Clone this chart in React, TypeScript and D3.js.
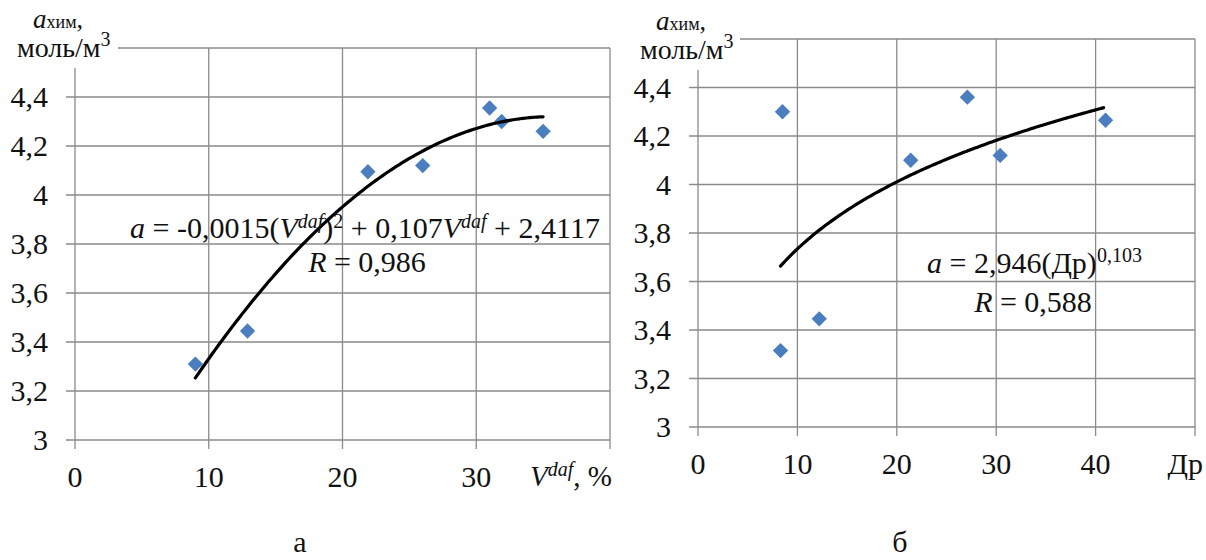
import * as d3 from 'd3';

// panel "а": a_chem vs V^daf
const vdaf = [9, 12.9, 21.9, 26, 31, 31.9, 35];
const aChemA = [3.31, 3.445, 4.095, 4.12, 4.355, 4.3, 4.26];
// panel "б": a_chem vs Др
const dr = [8.5, 8.3, 12.2, 21.4, 27.1, 30.4, 41];
const aChemB = [4.3, 3.315, 3.446, 4.1, 4.36, 4.12, 4.265];

// trend line coefficients as printed on the chart
const quadCoef = [-0.0015, 0.107, 2.4117];
const powCoef = [2.946, 0.103];

const xTicksA = [0, 10, 20, 30, 40];
const xTicksB = [0, 10, 20, 30, 40, 50];
const xTickLabelsA = ['0', '10', '20', '30'];
const xTickLabelsB = ['0', '10', '20', '30', '40'];
const yTicks = [3, 3.2, 3.4, 3.6, 3.8, 4, 4.2, 4.4];
const yTickLabels = ['3', '3,2', '3,4', '3,6', '3,8', '4', '4,2', '4,4'];

const FONT = 'Liberation Serif';
const GRID = '#8a8a8a';
const BLUE = '#4a7ebf';

const diamond = d3.symbol().type(d3.symbolDiamond2).size(150)();

function Panel({ x, y, axisTop, borderLeft, xTicks, xLabels, xs, ys, trend, trendFrom, trendTo }) {
  const [x0, x1] = x.range();
  const [yb, yt] = y.range();
  const line = d3.line().curve(d3.curveBasis)
    .x(d => x(d[0]))
    .y(d => y(d[1]));
  const tr = d3.range(trendFrom, trendTo + 0.001, 0.25).map(v => [v, trend(v)]);
  return (
    <g>
      {yTicks.map(t => (
        <line key={'h' + t} x1={x0 - 9} x2={x1} y1={y(t)} y2={y(t)} stroke={GRID} strokeWidth={1.3} />
      ))}
      <line x1={borderLeft} x2={x1} y1={yt} y2={yt} stroke={GRID} strokeWidth={1.3} />
      {xTicks.map(t => (
        <line key={'v' + t} x1={x(t)} x2={x(t)} y1={t === 0 ? axisTop : yt} y2={yb + 9} stroke={GRID} strokeWidth={1.3} />
      ))}
      {yTicks.map((t, i) => (
        <text key={'yl' + t} x={x0 - 27} y={y(t) + 10} textAnchor="end" fontSize={30} fontFamily={FONT} fill="#111">
          {yTickLabels[i]}
        </text>
      ))}
      {xLabels.map((l, i) => (
        <text key={'xl' + l} x={x(xTicks[i])} y={yb + 47} textAnchor="middle" fontSize={30} fontFamily={FONT} fill="#111">
          {l}
        </text>
      ))}
      {xs.map((v, i) => (
        <path key={'p' + i} d={diamond} transform={`translate(${x(v)},${y(ys[i])})`} fill={BLUE} />
      ))}
      <path d={line(tr)} fill="none" stroke="#000" strokeWidth={3.2} strokeLinecap="round" />
    </g>
  );
}

function YTitle({ x, y }) {
  return (
    <g fill="#111">
      <text x={x + 16} y={y} fontFamily={FONT}>
        <tspan fontStyle="italic" fontSize={27}>a</tspan>
        <tspan fontSize={18}>хим</tspan>
        <tspan fontSize={26}>,</tspan>
      </text>
      <text x={x} y={y + 29} fontSize={28} fontFamily={FONT}>
        моль/м<tspan fontSize={20} dy={-11}>3</tspan>
      </text>
    </g>
  );
}

export default function App() {
  const xA = d3.scaleLinear().domain([0, 40]).range([75, 610]);
  const yA = d3.scaleLinear().domain([3, 4.6]).range([440, 48]);
  const xB = d3.scaleLinear().domain([0, 50]).range([698, 1195]);
  const yB = d3.scaleLinear().domain([3, 4.6]).range([427, 39]);

  const quad = v => quadCoef[0] * v * v + quadCoef[1] * v + quadCoef[2];
  const pow = v => powCoef[0] * Math.pow(v, powCoef[1]);

  return (
    <svg width={1206} height={560} style={{ position: 'absolute', left: 0, top: 0, background: '#fff' }}>
      <Panel x={xA} y={yA} axisTop={68} borderLeft={118} xTicks={xTicksA} xLabels={xTickLabelsA} xs={vdaf} ys={aChemA}
        trend={quad} trendFrom={9} trendTo={35} />
      <Panel x={xB} y={yB} axisTop={70} borderLeft={740} xTicks={xTicksB} xLabels={xTickLabelsB} xs={dr} ys={aChemB}
        trend={pow} trendFrom={8.3} trendTo={41} />

      <YTitle x={17} y={28} />
      <YTitle x={640} y={30} />

      {/* x axis titles */}
      <text x={612} y={486} textAnchor="end" fontFamily={FONT} fontSize={29} fill="#111">
        <tspan fontStyle="italic">V</tspan>
        <tspan fontStyle="italic" fontSize={20} dy={-10}>daf</tspan>
        <tspan dy={10}>, %</tspan>
      </text>
      <text x={1203} y={474} textAnchor="end" fontFamily={FONT} fontSize={30} fill="#111">Др</text>

      {/* equations */}
      <g fill="#111">
        <text x={130} y={238} fontFamily={FONT} fontSize={30}>
          <tspan fontStyle="italic">a</tspan>
          <tspan> = -0,0015(</tspan>
          <tspan fontStyle="italic">V</tspan>
          <tspan fontStyle="italic" fontSize={20} dy={-10}>daf</tspan>
          <tspan dy={10}>)</tspan>
          <tspan fontSize={20} dy={-10}>2</tspan>
          <tspan dy={10}> + 0,107</tspan>
          <tspan fontStyle="italic">V</tspan>
          <tspan fontStyle="italic" fontSize={20} dy={-10}>daf</tspan>
          <tspan dy={10}> + 2,4117</tspan>
        </text>
        <text x={367} y={272} textAnchor="middle" fontFamily={FONT} fontSize={30}>
          <tspan fontStyle="italic">R</tspan> = 0,986
        </text>
        <text x={927} y={273} fontFamily={FONT} fontSize={30}>
          <tspan fontStyle="italic">a</tspan>
          <tspan> = 2,946(Др)</tspan>
          <tspan fontSize={20} dy={-11}>0,103</tspan>
        </text>
        <text x={1033} y={312} textAnchor="middle" fontFamily={FONT} fontSize={30}>
          <tspan fontStyle="italic">R</tspan> = 0,588
        </text>
      </g>

      <text x={300} y={552} textAnchor="middle" fontFamily={FONT} fontSize={30} fill="#111">а</text>
      <text x={900} y={552} textAnchor="middle" fontFamily={FONT} fontSize={30} fill="#111">б</text>
    </svg>
  );
}
